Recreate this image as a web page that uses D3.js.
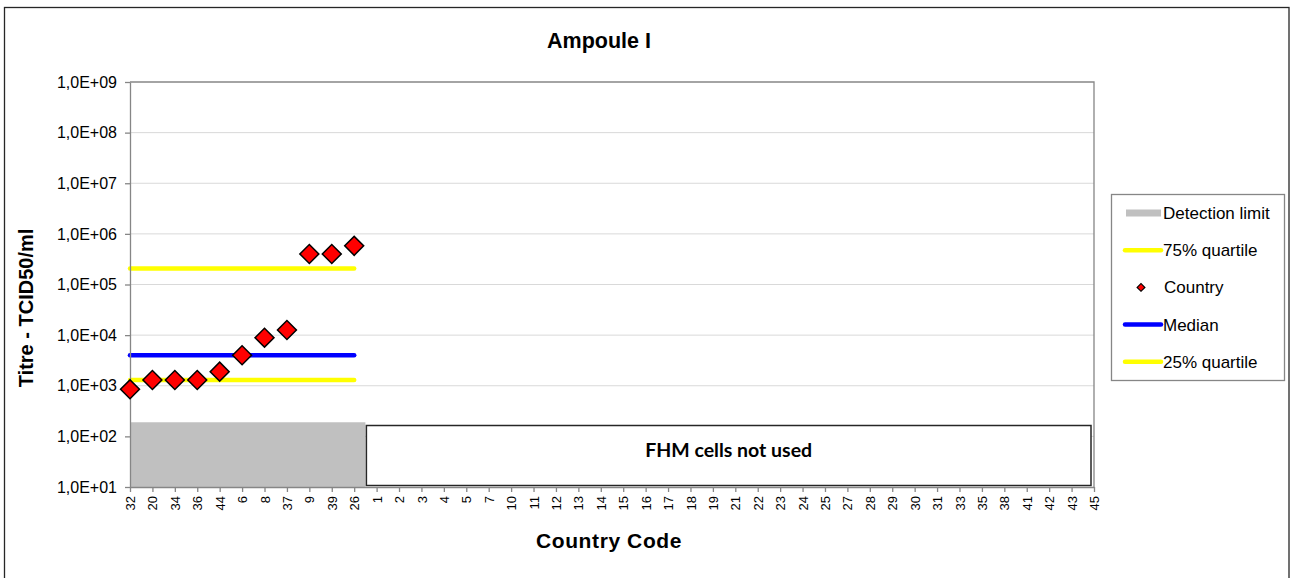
<!DOCTYPE html>
<html><head><meta charset="utf-8">
<script src="https://cdn.jsdelivr.net/npm/d3@7"></script>
<style>body{margin:0;background:#fff;}svg{display:block;font-family:Arial,"Liberation Sans",sans-serif;}</style>
</head><body>
<svg id="c" width="1290" height="578"></svg>
<script>
const categories = ["32","20","34","36","44","6","8","37","9","39","26","1","2","3","4","5","7","10","11","12","13","14","15","16","17","18","19","21","22","23","24","25","27","28","29","30","31","33","35","38","41","42","43","45"];
const countryCodes = ["32","20","34","36","44","6","8","37","9","39","26"];
const countryValues = [850,1300,1300,1300,1900,4000,8900,12600,400000,400000,580000];
const q75 = 206000;
const median = 4000;
const q25 = 1300;
const detectionLimit = 190;
const yTicks = [1e1,1e2,1e3,1e4,1e5,1e6,1e7,1e8,1e9];
const unusedLabel = "FHM cells not used";

const svg = d3.select("#c");
const L = 130, R = 1094, T = 82, B = 487;
const x = d3.scalePoint().domain(categories).range([L, R]);
const step = x.step();
const y = d3.scaleLog().domain([1e1, 1e9]).range([B, T]);
const fmt = v => "1,0E+" + String(Math.round(Math.log10(v))).padStart(2, "0");

// outer frame
svg.append("rect").attr("x",4.5).attr("y",7.5).attr("width",1284.5).attr("height",600)
  .attr("fill","none").attr("stroke","#262626").attr("stroke-width",1.3);

// gridlines
svg.append("g").selectAll("line").data(yTicks.slice(1,-1)).join("line")
  .attr("x1",L).attr("x2",R).attr("y1",d=>y(d)).attr("y2",d=>y(d))
  .attr("stroke","#d9d9d9").attr("stroke-width",1);

// plot border top/right
svg.append("path").attr("d",`M${L},${T}H${R}V${B}`).attr("fill","none")
  .attr("stroke","#868686").attr("stroke-width",1.3);

// detection limit area
const lastUsed = countryCodes[countryCodes.length-1];
svg.append("rect").attr("x",L).attr("y",y(detectionLimit))
  .attr("width",x(lastUsed)+step/2-L).attr("height",B-y(detectionLimit))
  .attr("fill","#c0c0c0");

// FHM box
const bx = x(lastUsed)+step/2+1, bx2 = R-3;
svg.append("rect").attr("x",bx).attr("y",425.5).attr("width",bx2-bx).attr("height",60)
  .attr("fill","#fff").attr("stroke","#262626").attr("stroke-width",1.5);
svg.append("text").attr("x",(bx+bx2)/2).attr("y",457).attr("text-anchor","middle")
  .attr("font-family","Lato, 'Open Sans', sans-serif").attr("font-weight","bold")
  .attr("font-size",19.5).attr("fill","#000").text(unusedLabel);

// quartile lines
const x0 = x(countryCodes[0]), x1 = x(lastUsed);
[[q75,"#ffff00"],[median,"#0000ff"],[q25,"#ffff00"]].forEach(([v,c])=>{
  svg.append("line").attr("x1",x0).attr("x2",x1).attr("y1",y(v)).attr("y2",y(v))
    .attr("stroke",c).attr("stroke-width",4.5).attr("stroke-linecap","round");
});

// y axis
const yAxis = svg.append("g").attr("transform",`translate(${L},0)`)
  .call(d3.axisLeft(y).tickValues(yTicks).tickFormat(fmt).tickSize(5).tickSizeOuter(0));
yAxis.select(".domain").attr("stroke","#868686").attr("stroke-width",1.3);
yAxis.selectAll(".tick line").attr("stroke","#868686").attr("stroke-width",1.3);
yAxis.selectAll("text").attr("font-size",16).attr("fill","#000")
  .attr("font-family","Arial, 'Liberation Sans', sans-serif").attr("x",-13);

// x axis
const xAxis = svg.append("g").attr("transform",`translate(0,${B})`)
  .call(d3.axisBottom(x).tickSize(5).tickSizeOuter(0));
xAxis.select(".domain").attr("stroke","#868686").attr("stroke-width",1.3);
xAxis.selectAll(".tick line").attr("stroke","#868686").attr("stroke-width",1.3);
xAxis.selectAll("text").attr("font-size",13).attr("fill","#000")
  .attr("font-family","Arial, 'Liberation Sans', sans-serif")
  .attr("transform","rotate(-90)").attr("text-anchor","end")
  .attr("x",-9).attr("y",0).attr("dy","0.35em");

// diamonds
const pts = countryCodes.map((c,i)=>({c, v: countryValues[i]}));
svg.append("g").selectAll("path").data(pts).join("path")
  .attr("d", d3.symbol(d3.symbolSquare, 180)())
  .attr("transform", d=>`translate(${x(d.c)},${y(d.v)}) rotate(45)`)
  .attr("fill","#ff0000").attr("stroke","#000").attr("stroke-width",1.5);

// titles
svg.append("text").attr("x",599).attr("y",48).attr("text-anchor","middle")
  .attr("font-weight","bold").attr("font-size",21.5).text("Ampoule I");
svg.append("text").attr("transform","translate(33,308) rotate(-90)").attr("text-anchor","middle")
  .attr("font-weight","bold").attr("font-size",20).text("Titre - TCID50/ml");
svg.append("text").attr("x",609).attr("y",548).attr("text-anchor","middle")
  .attr("font-weight","bold").attr("font-size",21).attr("letter-spacing",0.6).text("Country Code");

// legend
const lg = svg.append("g");
lg.append("rect").attr("x",1111.5).attr("y",194.5).attr("width",173).attr("height",186)
  .attr("fill","#fff").attr("stroke","#868686").attr("stroke-width",1.3);
const items = [
  {t:"Detection limit", type:"area", c:"#c0c0c0"},
  {t:"75% quartile", type:"line", c:"#ffff00"},
  {t:"Country", type:"pt"},
  {t:"Median", type:"line", c:"#0000ff"},
  {t:"25% quartile", type:"line", c:"#ffff00"}
];
items.forEach((it,i)=>{
  const cy = 213 + i*37.2;
  if(it.type==="area"){
    lg.append("rect").attr("x",1126).attr("y",cy-3.5).attr("width",35).attr("height",7).attr("fill",it.c);
  } else if(it.type==="line"){
    lg.append("line").attr("x1",1125).attr("x2",1161).attr("y1",cy).attr("y2",cy)
      .attr("stroke",it.c).attr("stroke-width",4.5).attr("stroke-linecap","round");
  } else {
    lg.append("path").attr("d", d3.symbol(d3.symbolSquare, 30)())
      .attr("transform",`translate(1141,${cy}) rotate(45)`)
      .attr("fill","#ff0000").attr("stroke","#000").attr("stroke-width",1.2);
  }
  lg.append("text").attr("x", it.type==="pt" ? 1164 : 1163).attr("y",cy).attr("dy","0.35em")
    .attr("font-size",17).attr("fill","#000").text(it.t);
});
</script>
</body></html>
